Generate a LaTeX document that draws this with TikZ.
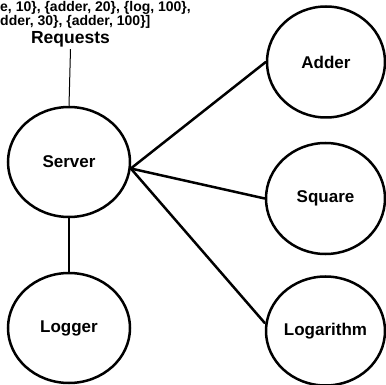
\documentclass[tikz,border=0pt]{standalone}
\usepackage{fontspec}
\setmainfont{Liberation Sans}
\usetikzlibrary{shapes.geometric}
\begin{document}
\begin{tikzpicture}[x=1pt,y=-1pt,
  svc/.style={draw=black,line width=2.5pt,ellipse,inner sep=0pt,font=\fontsize{17}{17}\selectfont\bfseries},
  conn/.style={line width=2.5pt,line cap=round},
  toptext/.style={anchor=base west,inner sep=0pt,font=\fontsize{14}{14}\selectfont\bfseries}]
\useasboundingbox (0,0) rectangle (386,385);
\node[toptext] (top1) at (0,11.3) {e, 10\}, \{adder, 20\}, \{log, 100\},};
\node[toptext] (top2) at (0,25.5) {dder, 30\}, \{adder, 100\}]};
\node[inner sep=0pt,font=\fontsize{17.5}{17.5}\selectfont\bfseries] (req) at (70.5,39) {Requests};
\node[svc,minimum width=122pt,minimum height=110pt] (server) at (69,162) {Server};
\node[svc,minimum width=122pt,minimum height=110pt] (logger) at (69,328) {Logger};
\node[svc,minimum width=118pt,minimum height=111pt] (adder) at (326,62) {Adder};
\node[svc,minimum width=119pt,minimum height=111pt] (square) at (325.5,198.5) {Square};
\node[svc,minimum width=119pt,minimum height=109pt] (log) at (325.5,331) {Logarithm};
\coordinate (hub) at (server.-6);
\draw[line width=1pt] ([yshift=-2pt]req.south) -- (server.north);
\draw[conn] (server.south) -- (logger.north);
\draw[conn] (hub) -- (adder.west);
\draw[conn] (hub) -- (square.west);
\draw[conn] (hub) -- ([yshift=8pt]log.west);
\end{tikzpicture}
\end{document}
